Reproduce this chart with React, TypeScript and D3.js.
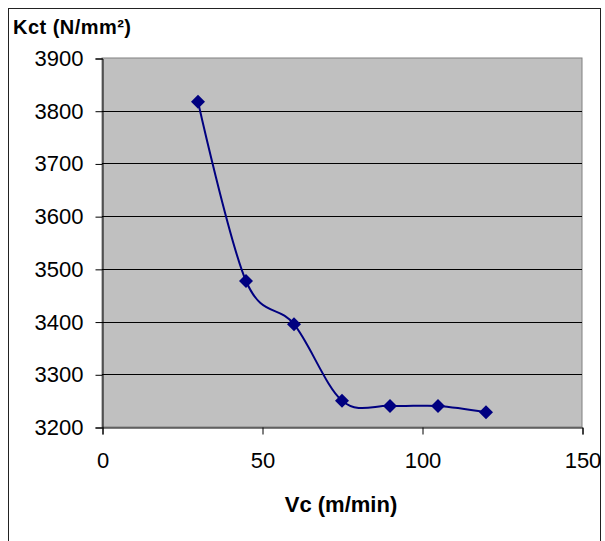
import { useEffect, useRef } from "react";
import * as d3 from "d3";

const speeds = [30, 45, 60, 75, 90, 105, 120];
const kct = [3817, 3477, 3395, 3250, 3240, 3240, 3228];
const xTicks = [0, 50, 100, 150];
const yTicks = [3200, 3300, 3400, 3500, 3600, 3700, 3800, 3900];

export default function App() {
  const svgRef = useRef<SVGSVGElement>(null);

  useEffect(() => {
    const svg = d3.select(svgRef.current);
    svg.selectAll("*").remove();

    const width = 605, height = 541;
    const left = 102, right = 582, top = 58, bottom = 427;
    const font = "'Liberation Sans', Arial, sans-serif";

    const x = d3.scaleLinear().domain([0, 150]).range([left, right]);
    const y = d3.scaleLinear().domain([3200, 3900]).range([bottom, top]);

    svg.attr("width", width).attr("height", height);

    // outer frame
    svg.append("rect").attr("x", 8.5).attr("y", 8.5).attr("width", 592).attr("height", 545)
      .attr("fill", "#fff").attr("stroke", "#222").attr("stroke-width", 1);

    // plot area
    svg.append("rect").attr("x", left).attr("y", top)
      .attr("width", right - left).attr("height", bottom - top)
      .attr("fill", "#c0c0c0").attr("stroke", "#808080").attr("stroke-width", 1);

    // gridlines
    svg.append("g").selectAll("line").data(yTicks.slice(1, -1)).join("line")
      .attr("x1", left).attr("x2", right)
      .attr("y1", d => Math.round(y(d)) + 0.5).attr("y2", d => Math.round(y(d)) + 0.5)
      .attr("stroke", "#000").attr("stroke-width", 1);

    // y axis
    const gy = svg.append("g").attr("transform", `translate(${left + 0.5},0.5)`)
      .call(d3.axisLeft(y).tickValues(yTicks).tickSize(7).tickPadding(12).tickFormat(d3.format("d")));
    gy.select(".domain").attr("stroke", "#000");
    gy.selectAll(".tick line").attr("stroke", "#000");
    gy.selectAll("text").attr("font-family", font).attr("font-size", 22).attr("fill", "#000");

    // x axis
    const gx = svg.append("g").attr("transform", `translate(0.5,${bottom + 0.5})`)
      .call(d3.axisBottom(x).tickValues(xTicks).tickSize(7).tickPadding(18).tickFormat(d3.format("d")));
    gx.select(".domain").attr("stroke", "#000");
    gx.selectAll(".tick line").attr("stroke", "#000");
    gx.selectAll("text").attr("font-family", font).attr("font-size", 22).attr("fill", "#000");

    // titles
    svg.append("text").attr("x", 13).attr("y", 34)
      .attr("font-family", font).attr("font-size", 20).attr("font-weight", "bold")
      .attr("textLength", 118).attr("lengthAdjust", "spacing")
      .text("Kct (N/mm²)");
    svg.append("text").attr("x", 341).attr("y", 512).attr("text-anchor", "middle")
      .attr("font-family", font).attr("font-size", 22).attr("font-weight", "bold")
      .text("Vc (m/min)");

    const pts = speeds.map((s, i) => [s, kct[i]] as [number, number]);
    const line = d3.line<[number, number]>()
      .x(d => x(d[0])).y(d => y(d[1]))
      .curve(d3.curveCatmullRom.alpha(0));

    svg.append("path").datum(pts)
      .attr("fill", "none").attr("stroke", "#000080").attr("stroke-width", 2).attr("d", line);

    svg.append("g").selectAll("path").data(pts).join("path")
      .attr("transform", d => `translate(${x(d[0])},${y(d[1])})`)
      .attr("d", "M0,-7L7,0L0,7L-7,0Z")
      .attr("fill", "#000080");
  }, []);

  return <svg ref={svgRef} style={{ position: "absolute", left: 0, top: 0 }} />;
}
